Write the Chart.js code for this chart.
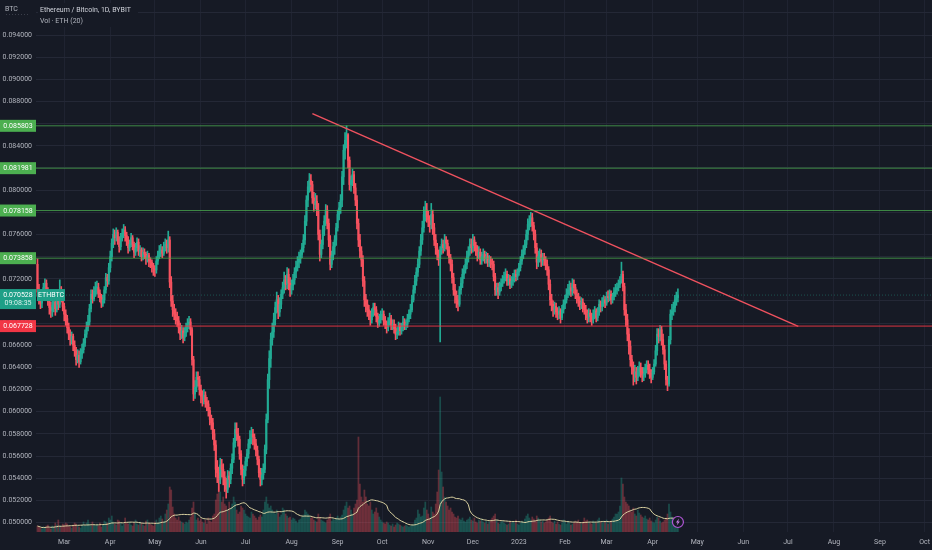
<!DOCTYPE html>
<html>
<head>
<meta charset="utf-8">
<title>ETH/BTC 1D</title>
<script src="https://cdn.jsdelivr.net/npm/chart.js@4.4.1/dist/chart.umd.min.js"></script>
<style>
  html, body { margin: 0; padding: 0; background: #161a25; }
  #wrap { width: 932px; height: 550px; }
</style>
</head>
<body>
<div id="wrap"><canvas id="ethbtcChart" width="932" height="550"></canvas></div>
<script>
// ETH/BTC daily candles (Bybit). Day 0 = 1 Mar 2022, first candle is day -18.
const firstDay = -18;
const firstOpen = 0.0733;

const closes = [
  0.0708, 0.0702, 0.0698, 0.0706, 0.0712, 0.0716, 0.0709, 0.0700, 0.0694, 0.0691, // -18
  0.0696, 0.0699, 0.0693, 0.0702, 0.0697, 0.0710, 0.0703, 0.0695, 0.0688, 0.0684, // -8
  0.0676, 0.0670, 0.0665, 0.0668, 0.0660, 0.0655, 0.0647, 0.0651, 0.0645, 0.0652, // 2
  0.0656, 0.0662, 0.0670, 0.0676, 0.0681, 0.0693, 0.0706, 0.0702, 0.0709, 0.0712, // 12
  0.0712, 0.0707, 0.0703, 0.0698, 0.0701, 0.0710, 0.0721, 0.0718, 0.0730, 0.0740, // 22
  0.0752, 0.0760, 0.0757, 0.0762, 0.0755, 0.0749, 0.0758, 0.0761, 0.0764, 0.0759, // 32
  0.0755, 0.0748, 0.0751, 0.0757, 0.0751, 0.0744, 0.0748, 0.0753, 0.0745, 0.0746, // 42
  0.0740, 0.0744, 0.0742, 0.0738, 0.0741, 0.0736, 0.0735, 0.0731, 0.0729, 0.0728, // 52
  0.0736, 0.0741, 0.0745, 0.0746, 0.0743, 0.0749, 0.0751, 0.0748, 0.0755, 0.0717, // 62
  0.0700, 0.0692, 0.0688, 0.0685, 0.0682, 0.0676, 0.0670, 0.0673, 0.0667, 0.0671, // 72
  0.0676, 0.0679, 0.0681, 0.0674, 0.0647, 0.0616, 0.0622, 0.0631, 0.0629, 0.0620, // 82
  0.0614, 0.0611, 0.0615, 0.0609, 0.0607, 0.0601, 0.0593, 0.0590, 0.0580, 0.0570, // 92
  0.0548, 0.0545, 0.0539, 0.0552, 0.0548, 0.0541, 0.0536, 0.0530, 0.0542, 0.0539, // 102
  0.0549, 0.0557, 0.0572, 0.0584, 0.0580, 0.0575, 0.0562, 0.0548, 0.0539, 0.0547, // 112
  0.0555, 0.0562, 0.0571, 0.0576, 0.0580, 0.0577, 0.0571, 0.0565, 0.0557, 0.0545, // 122
  0.0539, 0.0543, 0.0548, 0.0566, 0.0593, 0.0629, 0.0648, 0.0665, 0.0672, 0.0683, // 132
  0.0694, 0.0701, 0.0690, 0.0697, 0.0706, 0.0712, 0.0719, 0.0715, 0.0724, 0.0716, // 142
  0.0710, 0.0714, 0.0719, 0.0726, 0.0731, 0.0735, 0.0738, 0.0742, 0.0748, 0.0755, // 152
  0.0772, 0.0791, 0.0803, 0.0809, 0.0805, 0.0793, 0.0787, 0.0790, 0.0782, 0.0760, // 162
  0.0742, 0.0751, 0.0764, 0.0772, 0.0782, 0.0770, 0.0755, 0.0733, 0.0741, 0.0749, // 172
  0.0755, 0.0766, 0.0778, 0.0784, 0.0791, 0.0812, 0.0836, 0.0845, 0.0850, 0.0827, // 182
  0.0805, 0.0809, 0.0814, 0.0802, 0.0791, 0.0770, 0.0755, 0.0745, 0.0737, 0.0718, // 192
  0.0701, 0.0697, 0.0692, 0.0688, 0.0683, 0.0689, 0.0694, 0.0692, 0.0686, 0.0680, // 202
  0.0683, 0.0687, 0.0688, 0.0682, 0.0679, 0.0676, 0.0681, 0.0684, 0.0678, 0.0679, // 212
  0.0675, 0.0670, 0.0672, 0.0677, 0.0673, 0.0676, 0.0681, 0.0678, 0.0679, 0.0684, // 222
  0.0688, 0.0692, 0.0701, 0.0710, 0.0718, 0.0726, 0.0733, 0.0745, 0.0755, 0.0766, // 232
  0.0778, 0.0782, 0.0776, 0.0773, 0.0769, 0.0778, 0.0766, 0.0755, 0.0748, 0.0742, // 242
  0.0738, 0.0746, 0.0751, 0.0748, 0.0755, 0.0752, 0.0746, 0.0739, 0.0733, 0.0721, // 252
  0.0710, 0.0705, 0.0701, 0.0697, 0.0710, 0.0716, 0.0724, 0.0728, 0.0733, 0.0740, // 262
  0.0745, 0.0751, 0.0748, 0.0755, 0.0750, 0.0746, 0.0741, 0.0744, 0.0737, 0.0740, // 272
  0.0742, 0.0738, 0.0740, 0.0735, 0.0737, 0.0734, 0.0733, 0.0722, 0.0710, 0.0712, // 282
  0.0708, 0.0713, 0.0716, 0.0719, 0.0722, 0.0724, 0.0718, 0.0720, 0.0715, 0.0718, // 292
  0.0721, 0.0724, 0.0722, 0.0726, 0.0730, 0.0736, 0.0742, 0.0746, 0.0751, 0.0760, // 302
  0.0769, 0.0772, 0.0775, 0.0768, 0.0760, 0.0748, 0.0735, 0.0740, 0.0742, 0.0736, // 312
  0.0739, 0.0737, 0.0733, 0.0728, 0.0715, 0.0701, 0.0697, 0.0692, 0.0695, 0.0690, // 322
  0.0688, 0.0691, 0.0685, 0.0692, 0.0697, 0.0701, 0.0706, 0.0710, 0.0712, 0.0709, // 332
  0.0715, 0.0712, 0.0706, 0.0703, 0.0700, 0.0697, 0.0699, 0.0694, 0.0692, 0.0688, // 342
  0.0685, 0.0689, 0.0686, 0.0683, 0.0688, 0.0691, 0.0685, 0.0690, 0.0697, 0.0695, // 352
  0.0699, 0.0701, 0.0698, 0.0704, 0.0703, 0.0706, 0.0701, 0.0704, 0.0708, 0.0710, // 362
  0.0712, 0.0715, 0.0718, 0.0724, 0.0713, 0.0692, 0.0683, 0.0670, 0.0659, 0.0647, // 372
  0.0640, 0.0634, 0.0636, 0.0631, 0.0637, 0.0640, 0.0636, 0.0633, 0.0634, 0.0639, // 382
  0.0642, 0.0638, 0.0635, 0.0631, 0.0636, 0.0643, 0.0655, 0.0670, 0.0668, 0.0674, // 392
  0.0665, 0.0656, 0.0643, 0.0629, 0.0625, 0.0665, 0.0688, 0.0691, 0.0694, 0.0701, // 402
  0.0703, 0.070528                                                                 // 412
];

const highs = [
  0.0738, 0.0715, 0.0709, 0.0710, 0.0716, 0.0720, 0.0719, 0.0712, 0.0704, 0.0699,
  0.0701, 0.0705, 0.0702, 0.0707, 0.0706, 0.0719, 0.0713, 0.0706, 0.0698, 0.0692,
  0.0687, 0.0680, 0.0674, 0.0672, 0.0670, 0.0664, 0.0658, 0.0656, 0.0655, 0.0657,
  0.0661, 0.0666, 0.0674, 0.0681, 0.0687, 0.0697, 0.0710, 0.0710, 0.0713, 0.0717,
  0.0718, 0.0716, 0.0710, 0.0706, 0.0705, 0.0713, 0.0725, 0.0724, 0.0734, 0.0745,
  0.0756, 0.0765, 0.0764, 0.0766, 0.0764, 0.0758, 0.0761, 0.0765, 0.0769, 0.0767,
  0.0762, 0.0758, 0.0755, 0.0761, 0.0759, 0.0753, 0.0752, 0.0757, 0.0756, 0.0750,
  0.0748, 0.0748, 0.0747, 0.0744, 0.0745, 0.0743, 0.0739, 0.0737, 0.0734, 0.0732,
  0.0740, 0.0745, 0.0750, 0.0751, 0.0749, 0.0753, 0.0756, 0.0755, 0.0763, 0.0758,
  0.0722, 0.0705, 0.0697, 0.0693, 0.0690, 0.0686, 0.0680, 0.0678, 0.0676, 0.0676,
  0.0680, 0.0684, 0.0686, 0.0684, 0.0676, 0.0650, 0.0628, 0.0636, 0.0636, 0.0632,
  0.0624, 0.0619, 0.0620, 0.0618, 0.0613, 0.0610, 0.0604, 0.0597, 0.0594, 0.0584,
  0.0574, 0.0556, 0.0550, 0.0558, 0.0557, 0.0553, 0.0546, 0.0540, 0.0547, 0.0546,
  0.0553, 0.0562, 0.0576, 0.0590, 0.0590, 0.0585, 0.0578, 0.0565, 0.0552, 0.0551,
  0.0559, 0.0566, 0.0575, 0.0583, 0.0586, 0.0584, 0.0580, 0.0575, 0.0569, 0.0560,
  0.0549, 0.0549, 0.0553, 0.0570, 0.0598, 0.0634, 0.0655, 0.0671, 0.0680, 0.0689,
  0.0699, 0.0708, 0.0705, 0.0703, 0.0710, 0.0717, 0.0726, 0.0723, 0.0730, 0.0729,
  0.0721, 0.0719, 0.0724, 0.0730, 0.0736, 0.0740, 0.0744, 0.0746, 0.0752, 0.0760,
  0.0777, 0.0795, 0.0808, 0.0815, 0.0814, 0.0808, 0.0798, 0.0797, 0.0795, 0.0788,
  0.0764, 0.0755, 0.0768, 0.0777, 0.0787, 0.0786, 0.0774, 0.0759, 0.0745, 0.0753,
  0.0759, 0.0770, 0.0782, 0.0789, 0.0796, 0.0817, 0.0841, 0.0852, 0.0858, 0.0851,
  0.0830, 0.0813, 0.0819, 0.0817, 0.0806, 0.0795, 0.0774, 0.0760, 0.0749, 0.0741,
  0.0722, 0.0706, 0.0701, 0.0696, 0.0691, 0.0693, 0.0698, 0.0698, 0.0695, 0.0689,
  0.0688, 0.0691, 0.0693, 0.0691, 0.0686, 0.0682, 0.0685, 0.0689, 0.0687, 0.0683,
  0.0683, 0.0679, 0.0676, 0.0681, 0.0680, 0.0680, 0.0686, 0.0684, 0.0683, 0.0688,
  0.0692, 0.0697, 0.0705, 0.0714, 0.0723, 0.0730, 0.0738, 0.0749, 0.0760, 0.0772,
  0.0785, 0.0790, 0.0788, 0.0781, 0.0777, 0.0788, 0.0782, 0.0770, 0.0760, 0.0752,
  0.0746, 0.0749, 0.0756, 0.0755, 0.0760, 0.0758, 0.0755, 0.0749, 0.0742, 0.0737,
  0.0725, 0.0715, 0.0709, 0.0705, 0.0713, 0.0721, 0.0729, 0.0732, 0.0738, 0.0745,
  0.0749, 0.0756, 0.0756, 0.0760, 0.0758, 0.0753, 0.0750, 0.0749, 0.0747, 0.0744,
  0.0747, 0.0745, 0.0744, 0.0743, 0.0741, 0.0740, 0.0738, 0.0736, 0.0725, 0.0716,
  0.0716, 0.0717, 0.0720, 0.0723, 0.0726, 0.0729, 0.0727, 0.0724, 0.0723, 0.0722,
  0.0725, 0.0728, 0.0728, 0.0729, 0.0734, 0.0740, 0.0746, 0.0750, 0.0755, 0.0764,
  0.0774, 0.0777, 0.0780, 0.0779, 0.0771, 0.0764, 0.0752, 0.0745, 0.0747, 0.0746,
  0.0743, 0.0743, 0.0740, 0.0737, 0.0731, 0.0719, 0.0706, 0.0700, 0.0699, 0.0698,
  0.0694, 0.0695, 0.0693, 0.0696, 0.0701, 0.0705, 0.0711, 0.0715, 0.0718, 0.0716,
  0.0720, 0.0719, 0.0715, 0.0710, 0.0707, 0.0704, 0.0703, 0.0702, 0.0698, 0.0696,
  0.0692, 0.0693, 0.0692, 0.0689, 0.0692, 0.0695, 0.0693, 0.0694, 0.0701, 0.0700,
  0.0703, 0.0705, 0.0704, 0.0708, 0.0709, 0.0710, 0.0709, 0.0707, 0.0712, 0.0715,
  0.0716, 0.0719, 0.0722, 0.0735, 0.0727, 0.0716, 0.0697, 0.0688, 0.0675, 0.0664,
  0.0651, 0.0645, 0.0642, 0.0640, 0.0641, 0.0645, 0.0644, 0.0640, 0.0640, 0.0643,
  0.0646, 0.0646, 0.0643, 0.0638, 0.0640, 0.0647, 0.0660, 0.0675, 0.0675, 0.0678,
  0.0677, 0.0670, 0.0660, 0.0646, 0.0632, 0.0668, 0.0692, 0.0697, 0.0699, 0.0705,
  0.0708, 0.0711
];

const lows = [
  0.0704, 0.0697, 0.0693, 0.0694, 0.0703, 0.0708, 0.0704, 0.0696, 0.0688, 0.0685,
  0.0686, 0.0690, 0.0687, 0.0690, 0.0692, 0.0694, 0.0699, 0.0691, 0.0682, 0.0678,
  0.0671, 0.0665, 0.0660, 0.0661, 0.0655, 0.0650, 0.0642, 0.0644, 0.0640, 0.0643,
  0.0648, 0.0653, 0.0659, 0.0667, 0.0673, 0.0678, 0.0690, 0.0698, 0.0700, 0.0704,
  0.0706, 0.0703, 0.0699, 0.0694, 0.0695, 0.0698, 0.0707, 0.0713, 0.0715, 0.0726,
  0.0736, 0.0748, 0.0751, 0.0754, 0.0751, 0.0744, 0.0746, 0.0754, 0.0757, 0.0754,
  0.0750, 0.0743, 0.0745, 0.0749, 0.0746, 0.0739, 0.0741, 0.0745, 0.0741, 0.0740,
  0.0736, 0.0737, 0.0738, 0.0733, 0.0735, 0.0731, 0.0730, 0.0726, 0.0723, 0.0722,
  0.0725, 0.0733, 0.0738, 0.0740, 0.0739, 0.0741, 0.0745, 0.0743, 0.0744, 0.0712,
  0.0695, 0.0686, 0.0683, 0.0679, 0.0677, 0.0671, 0.0665, 0.0666, 0.0662, 0.0664,
  0.0668, 0.0672, 0.0675, 0.0669, 0.0642, 0.0610, 0.0612, 0.0618, 0.0623, 0.0615,
  0.0608, 0.0605, 0.0607, 0.0604, 0.0601, 0.0596, 0.0588, 0.0584, 0.0575, 0.0565,
  0.0541, 0.0536, 0.0528, 0.0535, 0.0541, 0.0534, 0.0528, 0.0522, 0.0527, 0.0532,
  0.0535, 0.0544, 0.0554, 0.0568, 0.0574, 0.0569, 0.0557, 0.0543, 0.0533, 0.0535,
  0.0542, 0.0551, 0.0558, 0.0567, 0.0571, 0.0570, 0.0566, 0.0560, 0.0552, 0.0541,
  0.0533, 0.0534, 0.0539, 0.0545, 0.0562, 0.0590, 0.0621, 0.0640, 0.0660, 0.0667,
  0.0678, 0.0689, 0.0684, 0.0686, 0.0693, 0.0702, 0.0707, 0.0710, 0.0711, 0.0710,
  0.0704, 0.0706, 0.0710, 0.0715, 0.0721, 0.0727, 0.0730, 0.0734, 0.0739, 0.0744,
  0.0751, 0.0768, 0.0785, 0.0798, 0.0799, 0.0788, 0.0781, 0.0783, 0.0777, 0.0755,
  0.0736, 0.0739, 0.0747, 0.0759, 0.0768, 0.0765, 0.0749, 0.0728, 0.0730, 0.0737,
  0.0742, 0.0750, 0.0763, 0.0773, 0.0779, 0.0785, 0.0805, 0.0828, 0.0838, 0.0820,
  0.0800, 0.0799, 0.0804, 0.0797, 0.0786, 0.0765, 0.0749, 0.0739, 0.0731, 0.0713,
  0.0695, 0.0690, 0.0686, 0.0683, 0.0678, 0.0680, 0.0686, 0.0687, 0.0681, 0.0676,
  0.0677, 0.0680, 0.0683, 0.0678, 0.0675, 0.0671, 0.0673, 0.0678, 0.0674, 0.0674,
  0.0671, 0.0665, 0.0666, 0.0669, 0.0669, 0.0670, 0.0673, 0.0674, 0.0674, 0.0676,
  0.0681, 0.0684, 0.0690, 0.0699, 0.0707, 0.0714, 0.0722, 0.0730, 0.0741, 0.0751,
  0.0762, 0.0772, 0.0771, 0.0767, 0.0762, 0.0765, 0.0760, 0.0750, 0.0742, 0.0737,
  0.0732, 0.0663, 0.0742, 0.0743, 0.0745, 0.0747, 0.0741, 0.0734, 0.0727, 0.0716,
  0.0705, 0.0698, 0.0694, 0.0691, 0.0695, 0.0706, 0.0712, 0.0720, 0.0725, 0.0729,
  0.0735, 0.0741, 0.0743, 0.0744, 0.0745, 0.0741, 0.0736, 0.0738, 0.0733, 0.0733,
  0.0736, 0.0734, 0.0734, 0.0731, 0.0731, 0.0730, 0.0728, 0.0718, 0.0705, 0.0705,
  0.0702, 0.0705, 0.0709, 0.0713, 0.0716, 0.0718, 0.0714, 0.0714, 0.0711, 0.0712,
  0.0714, 0.0717, 0.0718, 0.0719, 0.0723, 0.0727, 0.0733, 0.0738, 0.0742, 0.0748,
  0.0755, 0.0764, 0.0767, 0.0763, 0.0755, 0.0743, 0.0729, 0.0731, 0.0735, 0.0731,
  0.0732, 0.0732, 0.0728, 0.0723, 0.0710, 0.0696, 0.0691, 0.0686, 0.0688, 0.0685,
  0.0683, 0.0684, 0.0680, 0.0683, 0.0689, 0.0693, 0.0698, 0.0703, 0.0705, 0.0704,
  0.0705, 0.0707, 0.0702, 0.0698, 0.0695, 0.0692, 0.0693, 0.0690, 0.0688, 0.0683,
  0.0680, 0.0681, 0.0681, 0.0678, 0.0680, 0.0684, 0.0681, 0.0682, 0.0687, 0.0690,
  0.0691, 0.0695, 0.0694, 0.0696, 0.0699, 0.0700, 0.0697, 0.0698, 0.0701, 0.0704,
  0.0706, 0.0709, 0.0712, 0.0716, 0.0709, 0.0687, 0.0677, 0.0664, 0.0652, 0.0641,
  0.0634, 0.0624, 0.0627, 0.0625, 0.0628, 0.0632, 0.0631, 0.0627, 0.0628, 0.0631,
  0.0635, 0.0634, 0.0630, 0.0626, 0.0629, 0.0634, 0.0641, 0.0651, 0.0662, 0.0664,
  0.0660, 0.0652, 0.0638, 0.0624, 0.0619, 0.0623, 0.0661, 0.0683, 0.0687, 0.0690,
  0.0696, 0.0699
];

// daily volume, thousand ETH
const volumes = [
  6, 5, 4, 3, 5, 4, 6, 7, 4, 3,
  6, 5, 9, 7, 12, 6, 5, 8, 7, 9,
  8, 6, 5, 4, 7, 9, 8, 6, 5, 4,
  7, 10, 6, 9, 12, 8, 6, 10, 7, 6,
  8, 6, 9, 5, 7, 11, 10, 9, 14, 12,
  16, 10, 8, 7, 12, 11, 9, 6, 8, 14,
  9, 8, 10, 7, 6, 9, 12, 8, 7, 10,
  9, 7, 6, 11, 12, 9, 8, 7, 6, 10,
  12, 9, 14, 16, 13, 10, 18, 22, 28, 45,
  42, 25, 18, 14, 12, 15, 11, 10, 9, 8,
  10, 9, 12, 15, 24, 30, 18, 12, 14, 11,
  13, 10, 9, 12, 8, 14, 11, 10, 16, 18,
  32, 38, 55, 40, 30, 35, 28, 26, 22, 30,
  24, 28, 35, 30, 22, 18, 20, 26, 24, 22,
  18, 16, 15, 14, 20, 18, 16, 14, 12, 15,
  17, 15, 22, 30, 35, 28, 24, 26, 22, 20,
  18, 22, 19, 15, 17, 24, 22, 18, 16, 14,
  15, 12, 14, 13, 11, 9, 12, 13, 15, 17,
  22, 20, 18, 16, 14, 15, 12, 11, 10, 18,
  14, 12, 11, 10, 9, 12, 15, 18, 11, 13,
  12, 14, 16, 13, 15, 17, 22, 26, 30, 24,
  26, 22, 18, 24, 28, 32, 95, 48, 35, 30,
  42, 35, 28, 26, 30, 22, 18, 20, 24, 19,
  15, 12, 10, 9, 8, 10, 9, 7, 6, 8,
  5, 7, 9, 8, 7, 6, 5, 6, 7, 6,
  5, 6, 7, 8, 12, 14, 22, 18, 15, 16,
  24, 30, 22, 18, 14, 25, 20, 18, 28, 40,
  62, 135, 60, 45, 35, 30, 26, 22, 24, 20,
  18, 15, 14, 16, 13, 12, 14, 11, 10, 12,
  13, 15, 12, 11, 14, 10, 9, 12, 11, 13,
  10, 9, 11, 8, 10, 12, 14, 16, 18, 12,
  9, 8, 10, 11, 9, 8, 7, 8, 10, 9,
  10, 9, 12, 8, 7, 9, 11, 10, 13, 16,
  18, 14, 12, 15, 13, 11, 16, 14, 12, 10,
  11, 9, 10, 12, 14, 16, 10, 9, 11, 8,
  10, 8, 7, 9, 12, 10, 8, 11, 9, 7,
  8, 9, 11, 10, 12, 9, 8, 10, 14, 11,
  12, 10, 9, 8, 11, 10, 9, 12, 14, 10,
  9, 11, 10, 12, 8, 10, 11, 13, 15, 18,
  18, 20, 26, 54, 48, 35, 30, 28, 26, 22,
  20, 24, 18, 16, 22, 19, 17, 15, 14, 16,
  13, 12, 14, 11, 10, 9, 12, 15, 14, 11,
  9, 10, 12, 14, 18, 28, 20, 15, 13, 12,
  10, 8
];

// time axis: day offsets of month starts and their labels
const monthDays = [0, 31, 61, 92, 122, 153, 184, 214, 245, 275, 306, 337, 365, 396, 426, 457, 487, 518, 549, 579];
const monthLabels = ["Mar", "Apr", "May", "Jun", "Jul", "Aug", "Sep", "Oct", "Nov", "Dec",
                     "2023", "Feb", "Mar", "Apr", "May", "Jun", "Jul", "Aug", "Sep", "Oct"];
const priceTicks = [0.050, 0.052, 0.054, 0.056, 0.058, 0.060, 0.062, 0.064, 0.066, 0.068, 0.070, 0.072,
                    0.074, 0.076, 0.078, 0.080, 0.082, 0.084, 0.086, 0.088, 0.090, 0.092, 0.094, 0.096];

// drawn levels
const greenLevels = [0.085803, 0.081981, 0.078158, 0.073858];
const redLevel = 0.067728;
const lastPrice = 0.070528;
const trendDays = [167, 494];
const trendPrices = [0.0869, 0.0677];

const xMin = -19, xMax = 584;
const yMin = 0.049144, yMax = 0.097159;

const upColor = "#22ab94";
const downColor = "#f7525f";

const bodies = [];
const wicks = [];
const volBars = [];
const candleColors = [];
const volColors = [];
closes.forEach((c, i) => {
  const day = firstDay + i;
  const o = i === 0 ? firstOpen : closes[i - 1];
  const up = c >= o;
  bodies.push({ x: day, y: [o, c] });
  wicks.push({ x: day, y: [Math.min(lows[i], o, c), Math.max(highs[i], o, c)] });
  volBars.push({ x: day, y: volumes[i] });
  candleColors.push(up ? upColor : downColor);
  volColors.push(up ? "rgba(34,171,148,0.34)" : "rgba(247,82,95,0.34)");
});

// Vol SMA 20
const volMa = volumes.map((v, i) => {
  const win = volumes.slice(Math.max(0, i - 19), i + 1);
  return { x: firstDay + i, y: win.reduce((a, b) => a + b, 0) / win.length };
});

function levelLine(value, color) {
  return {
    type: "line",
    data: [{ x: xMin, y: value }, { x: xMax, y: value }],
    borderColor: color,
    borderWidth: 1,
    pointRadius: 0,
    order: 0
  };
}

const overlay = {
  id: "overlay",
  afterDraw(chart) {
    const c = chart.ctx;
    const ys = chart.scales.y;
    const xs = chart.scales.x;
    c.save();
    c.textBaseline = "middle";

    // header
    c.font = "7px Roboto";
    c.fillStyle = "#161a25";
    c.fillRect(38, 3, 100, 24);
    c.textAlign = "left";
    c.fillStyle = "#d1d4dc";
    c.fillText("Ethereum / Bitcoin, 1D, BYBIT", 40, 10);
    c.fillStyle = "#b2b5be";
    c.fillText("Vol \u00b7 ETH (20)", 40, 21);
    c.fillText("BTC", 5, 9);
    c.strokeStyle = "#3a3e4a";
    c.setLineDash([1, 2]);
    c.beginPath(); c.moveTo(6, 14.5); c.lineTo(30, 14.5); c.stroke();
    c.setLineDash([]);

    // price tags on the scale
    c.font = "7px Roboto";
    c.textAlign = "center";
    const tag = (val, bg) => {
      const py = ys.getPixelForValue(val);
      c.fillStyle = bg;
      c.fillRect(0, py - 6, 36, 12);
      c.fillStyle = "#ffffff";
      c.fillText(val.toFixed(6), 18, py + 0.5);
    };
    greenLevels.forEach(v => tag(v, "#4caf50"));
    tag(redLevel, "#f23645");

    const lp = ys.getPixelForValue(lastPrice);
    c.fillStyle = "#1e9f87";
    c.fillRect(0, lp - 6, 36, 20);
    c.fillRect(37, lp - 6, 28, 12);
    c.fillStyle = "#ffffff";
    c.fillText(lastPrice.toFixed(6), 18, lp + 0.5);
    c.fillText("ETHBTC", 51, lp + 0.5);
    c.fillStyle = "#d8f2ec";
    c.fillText("09:08:35", 18, lp + 8.5);

    // replay icon near the last bar
    const ix = xs.getPixelForValue(firstDay + closes.length - 1);
    const iy = 522;
    c.strokeStyle = "#b057d6";
    c.lineWidth = 1.2;
    c.fillStyle = "#161a25";
    c.beginPath(); c.arc(ix, iy, 5.5, 0, Math.PI * 2); c.fill(); c.stroke();
    c.fillStyle = "#c77ee6";
    c.beginPath();
    c.moveTo(ix + 1.2, iy - 3.5); c.lineTo(ix - 2, iy + 0.5); c.lineTo(ix - 0.2, iy + 0.5);
    c.lineTo(ix - 1.2, iy + 3.5); c.lineTo(ix + 2, iy - 0.5); c.lineTo(ix + 0.2, iy - 0.5);
    c.closePath(); c.fill();
    c.restore();
  }
};

const ctx = document.getElementById("ethbtcChart").getContext("2d");

new Chart(ctx, {
  type: "bar",
  data: {
    datasets: [
      ...greenLevels.map(v => levelLine(v, "rgba(76,175,80,0.75)")),
      levelLine(redLevel, "rgba(242,54,69,0.9)"),
      {
        type: "line",
        data: [{ x: trendDays[0], y: trendPrices[0] }, { x: trendDays[1], y: trendPrices[1] }],
        borderColor: "#f0525f",
        borderWidth: 1.4,
        pointRadius: 0,
        order: 0
      },
      {
        type: "line",
        data: [{ x: xMin, y: lastPrice }, { x: xMax, y: lastPrice }],
        borderColor: "rgba(34,171,148,0.4)",
        borderWidth: 1,
        borderDash: [1, 2],
        pointRadius: 0,
        order: 1
      },
      {
        data: bodies,
        backgroundColor: candleColors,
        barThickness: 1.4,
        minBarLength: 1,
        grouped: false,
        order: 2
      },
      {
        data: wicks,
        backgroundColor: candleColors,
        barThickness: 1,
        grouped: false,
        order: 3
      },
      {
        type: "line",
        yAxisID: "v",
        data: volMa,
        borderColor: "#dcd3a2",
        borderWidth: 1,
        pointRadius: 0,
        tension: 0,
        order: 4
      },
      {
        yAxisID: "v",
        data: volBars,
        backgroundColor: volColors,
        barThickness: 1.1,
        grouped: false,
        order: 5
      }
    ]
  },
  options: {
    responsive: false,
    animation: false,
    events: [],
    layout: { padding: 0 },
    plugins: {
      legend: { display: false },
      tooltip: { enabled: false }
    },
    scales: {
      x: {
        type: "linear",
        min: xMin,
        max: xMax,
        offset: false,
        border: { display: false },
        grid: { color: "#1f2331", drawTicks: false, offset: false },
        afterBuildTicks: s => { s.ticks = monthDays.map(v => ({ value: v })); },
        afterFit: s => { s.height = 18; s.paddingLeft = 0; s.paddingRight = 0; },
        ticks: {
          color: "#b2b5be",
          font: { size: 7, family: "Roboto" },
          padding: 6,
          autoSkip: false,
          maxRotation: 0,
          callback: (v, i) => monthLabels[i]
        }
      },
      y: {
        type: "linear",
        position: "left",
        min: yMin,
        max: yMax,
        border: { display: false },
        grid: { color: "#242836", drawTicks: false },
        afterBuildTicks: s => { s.ticks = priceTicks.map(v => ({ value: v })); },
        afterFit: s => { s.width = 36; s.paddingTop = 0; s.paddingBottom = 0; },
        ticks: {
          color: "#b2b5be",
          font: { size: 7, family: "Roboto" },
          padding: 4,
          callback: v => (v > 0.095 ? "" : v.toFixed(6))
        }
      },
      v: {
        type: "linear",
        display: false,
        min: 0,
        max: 532
      }
    }
  },
  plugins: [overlay]
});
</script>
</body>
</html>
